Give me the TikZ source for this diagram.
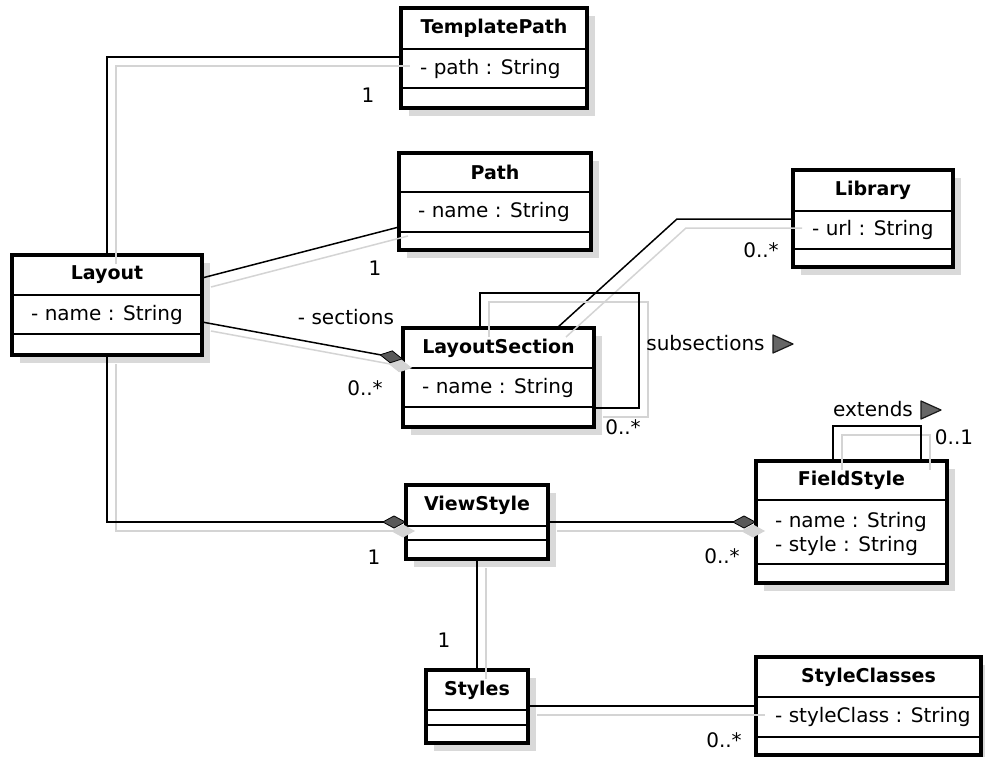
\documentclass[tikz,border=0pt]{standalone}
\usepackage{fontspec}
\setmainfont{DejaVu Sans}
\usetikzlibrary{arrows.meta,shadows}

\tikzset{
  umlclass/.style={draw=black, line width=3.2pt, fill=white, rectangle,
    anchor=north west, inner sep=0pt, outer sep=0pt,
    drop shadow={shadow xshift=8pt, shadow yshift=-8pt, fill=black!15, opacity=1}},
  compline/.style={line width=1.6pt},
  conn/.style={line width=1.5pt, draw=black},
  connshadow/.style={line width=1.5pt, draw=black!17},
  classname/.style={font=\fontsize{19}{22}\selectfont\bfseries, inner sep=0pt},
  attrib/.style={font=\fontsize{20}{23}\selectfont, anchor=west, inner sep=0pt},
  mult/.style={font=\fontsize{20}{23}\selectfont, inner sep=0pt},
  composite/.style={-{Diamond[length=24pt,width=13pt,line width=0.8pt,fill=black!65]}},
  compositeshadow/.style={-{Diamond[length=24pt,width=13pt,line width=0.8pt,fill=black!17]}},
  navtri/.style={draw=black!90, line width=1.2pt, fill=black!60, line join=round},
}

% compartment separator inside a class box
\newcommand\compsep[2]{\draw[compline] (#1.west |- 0,#2) -- (#1.east |- 0,#2);}
% association: grey offset shadow first, then the black line
\newcommand\assoc[3]{%
  \draw[connshadow,#1,transform canvas={xshift=9pt,yshift=-9pt}] #3;
  \draw[conn,#2] #3;}

\begin{document}
\begin{tikzpicture}[x=1pt,y=-1pt]
\fill[white] (0,0) rectangle (985,757);
\useasboundingbox (0,0) rectangle (985,757);

% ---- classes ----
\node[umlclass, minimum width=186pt, minimum height=100pt] (tpath) at (401,8) {};
\node[umlclass, minimum width=192pt, minimum height=97pt] (path) at (399,153) {};
\node[umlclass, minimum width=160pt, minimum height=97pt] (library) at (793,170) {};
\node[umlclass, minimum width=190pt, minimum height=100pt] (layout) at (12,255) {};
\node[umlclass, minimum width=191pt, minimum height=99pt] (lsec) at (403,328) {};
\node[umlclass, minimum width=142pt, minimum height=74pt] (vstyle) at (406,485) {};
\node[umlclass, minimum width=191pt, minimum height=122pt] (fstyle) at (756,461) {};
\node[umlclass, minimum width=102pt, minimum height=73pt] (styles) at (426,670) {};
\node[umlclass, minimum width=225pt, minimum height=98pt] (sclasses) at (756,657) {};

\compsep{tpath}{49}    \compsep{tpath}{88}
\compsep{path}{192}    \compsep{path}{232}
\compsep{library}{211} \compsep{library}{249}
\compsep{layout}{295}  \compsep{layout}{334}
\compsep{lsec}{368}    \compsep{lsec}{407}
\compsep{vstyle}{526}  \compsep{vstyle}{540}
\compsep{fstyle}{500}  \compsep{fstyle}{564}
\compsep{styles}{710}  \compsep{styles}{725}
\compsep{sclasses}{697} \compsep{sclasses}{737}

\node[classname] (tpathT) at (494,28.5) {TemplatePath};
\node[attrib] (tpathA) at (420,68.5) {- path : String};
\node[classname] (pathT) at (495,172.5) {Path};
\node[attrib] (pathA) at (418,212) {- name : String};
\node[classname] (libraryT) at (873,190.5) {Library};
\node[attrib] (libraryA) at (812,230) {- url : String};
\node[classname] (layoutT) at (107,275) {Layout};
\node[attrib] (layoutA) at (31,314.5) {- name : String};
\node[classname] (lsecT) at (498.5,348) {LayoutSection};
\node[attrib] (lsecA) at (422,387.5) {- name : String};
\node[classname] (vstyleT) at (477,505.5) {ViewStyle};
\node[classname] (fstyleT) at (851.5,480.5) {FieldStyle};
\node[attrib] (fstyleA) at (775,522) {- name : String};
\node[attrib] (fstyleB) at (775,546) {- style : String};
\node[classname] (stylesT) at (477,690) {Styles};
\node[classname] (sclassesT) at (868.5,677) {StyleClasses};
\node[attrib] (sclassesA) at (775,717) {- styleClass : String};

% ---- bend points ----
\coordinate (libbend) at (677,219);
\coordinate (secloop) at (639,293);
\coordinate (extloop) at (921,426);

% ---- associations ----
\assoc{}{}{(layout.north) |- (tpath.west |- 0,57)}
\assoc{}{}{(layout.east |- 0,278) -- (path.west |- 0,227)}
\assoc{compositeshadow}{composite}{(layout.east |- 0,322) -- (lsec.west |- 0,359)}
\assoc{compositeshadow}{composite}{(layout.south) |- (vstyle.west |- 0,522)}
\assoc{compositeshadow}{composite}{(vstyle.east |- 0,522) -- (fstyle.west |- 0,522)}
\assoc{}{}{(vstyle.south) -- (styles.north)}
\assoc{}{}{(styles.east |- 0,706) -- (sclasses.west |- 0,706)}
\assoc{}{}{(lsec.north -| 557,0) -- (libbend) -- (library.west |- libbend)}
\assoc{}{}{(lsec.north -| 480,0) |- (secloop) |- (lsec.east |- 0,408)}
\assoc{}{}{(fstyle.north -| 833,0) |- (extloop) -- (fstyle.north -| extloop)}

% ---- role names and multiplicities ----
\node[mult] (m1) at (368,95) {1};
\node[mult] (m2) at (375,268) {1};
\node[mult] (secrole) at (346,317) {- sections};
\node[mult] (m3) at (365,388) {0..*};
\node[mult] (m4) at (761,250) {0..*};
\node[mult] (subrole) at (705.5,343) {subsections};
\node[mult] (m5) at (623,427) {0..*};
\node[mult] (extrole) at (873,409) {extends};
\node[mult] (m6) at (954,437) {0..1};
\node[mult] (m7) at (374,557) {1};
\node[mult] (m8) at (722,556) {0..*};
\node[mult] (m9) at (444,640) {1};
\node[mult] (m10) at (724,740) {0..*};

% navigation triangles
\draw[navtri] (773,335) -- (793,344) -- (773,353) -- cycle;
\draw[navtri] (921,401) -- (941,410) -- (921,419) -- cycle;
\end{tikzpicture}
\end{document}
